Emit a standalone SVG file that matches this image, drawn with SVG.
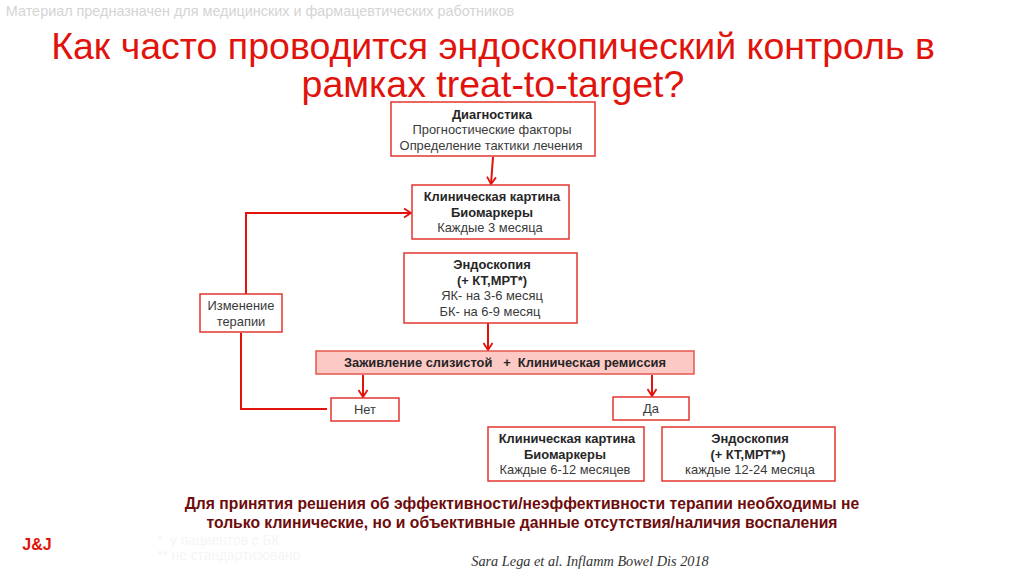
<svg xmlns="http://www.w3.org/2000/svg" width="1024" height="574" viewBox="0 0 1024 574">
<defs>
<marker id="arr" markerUnits="userSpaceOnUse" markerWidth="12" markerHeight="12" refX="9" refY="6" orient="auto"><path d="M2 1.500L9 6L2 10.500" fill="none" stroke="#e0140c" stroke-width="1.800"/></marker>
</defs>
<style>
text{font-family:"Liberation Sans",Arial,sans-serif;text-anchor:middle;font-size:12.900px;fill:#3a3a3a}
.b{font-weight:bold;fill:#262626}
.box{fill:#fff;stroke:#e4352c;stroke-width:1.500}
.c{fill:none;stroke:#e0140c;stroke-width:2}
.t{font-size:37.500px;fill:#e0140c}
.n{font-size:15.700px;font-weight:bold;fill:#6e0c0c}
.f{font-size:13.800px;fill:#f5f5f5;text-anchor:start}
</style>
<rect width="1024" height="574" fill="#fff"/>
<text x="260" y="16" style="font-size:14.400px;fill:#d4d4d4">Материал предназначен для медицинских и фармацевтических работников</text>
<text class="t" x="493" y="59">Как часто проводится эндоскопический контроль в</text>
<text class="t" x="493" y="97">рамках treat-to-target?</text>
<g id="connectors">
<path class="c" d="M493 157L491 184" marker-end="url(#arr)"/>
<path class="c" d="M246 294V213H411" marker-end="url(#arr)"/>
<path class="c" d="M241 333V409H327"/>
<path class="c" d="M488 323V350" marker-end="url(#arr)"/>
<path class="c" d="M363 375V397" marker-end="url(#arr)"/>
<path class="c" d="M652 375V396" marker-end="url(#arr)"/>
</g>
<g id="n1"><rect class="box" x="391" y="102" width="204" height="54"/><text class="b" x="492" y="119">Диагностика</text><text x="492" y="134">Прогностические факторы</text><text x="491" y="150">Определение тактики лечения</text></g>
<g id="n2"><rect class="box" x="412" y="185" width="157" height="54"/><text class="b" x="492" y="201">Клиническая картина</text><text class="b" x="492" y="217">Биомаркеры</text><text x="490" y="232">Каждые 3 месяца</text></g>
<g id="n3"><rect class="box" x="404" y="253" width="173" height="70"/><text class="b" x="492" y="269">Эндоскопия</text><text class="b" x="492" y="285">(+ КТ,МРТ*)</text><text x="492" y="300">ЯК- на 3-6 месяц</text><text x="490" y="316">БК- на 6-9 месяц</text></g>
<g id="n4"><rect class="box" x="200" y="294" width="82" height="38"/><text x="241" y="310">Изменение</text><text x="241" y="326">терапии</text></g>
<g id="n5"><rect x="316" y="351" width="378" height="23" fill="#fdc9c5" stroke="#e4574e" stroke-width="1.500"/><text class="b" x="505" y="367" style="white-space:pre">Заживление слизистой   +  Клиническая ремиссия</text></g>
<g id="n6"><rect class="box" x="331" y="398" width="68" height="23"/><text x="365" y="414">Нет</text></g>
<g id="n7"><rect class="box" x="613" y="397" width="76" height="23"/><text x="651" y="413">Да</text></g>
<g id="n8"><rect class="box" x="488" y="427" width="156" height="54"/><text class="b" x="567" y="443">Клиническая картина</text><text class="b" x="565" y="459">Биомаркеры</text><text x="565" y="474">Каждые 6-12 месяцев</text></g>
<g id="n9"><rect class="box" x="662" y="427" width="173" height="54"/><text class="b" x="750" y="443">Эндоскопия</text><text class="b" x="748" y="459">(+ КТ,МРТ**)</text><text x="750" y="474">каждые 12-24 месяца</text></g>
<text class="n" x="522" y="509">Для принятия решения об эффективности/неэффективности терапии необходимы не</text>
<text class="n" x="522" y="528">только клинические, но и объективные данные отсутствия/наличия воспаления</text>
<text x="37" y="550" style="font-size:16px;font-weight:bold;fill:#e0140c">J&amp;J</text>
<text class="f" x="157" y="545" style="white-space:pre">*  у пациентов с БК</text>
<text class="f" x="157" y="560">** не стандартизовано</text>
<text x="590" y="566" style="font-family:'Liberation Serif',serif;font-style:italic;font-size:14.300px;fill:#333">Sara Lega et al. Inflamm Bowel Dis 2018</text>
</svg>
